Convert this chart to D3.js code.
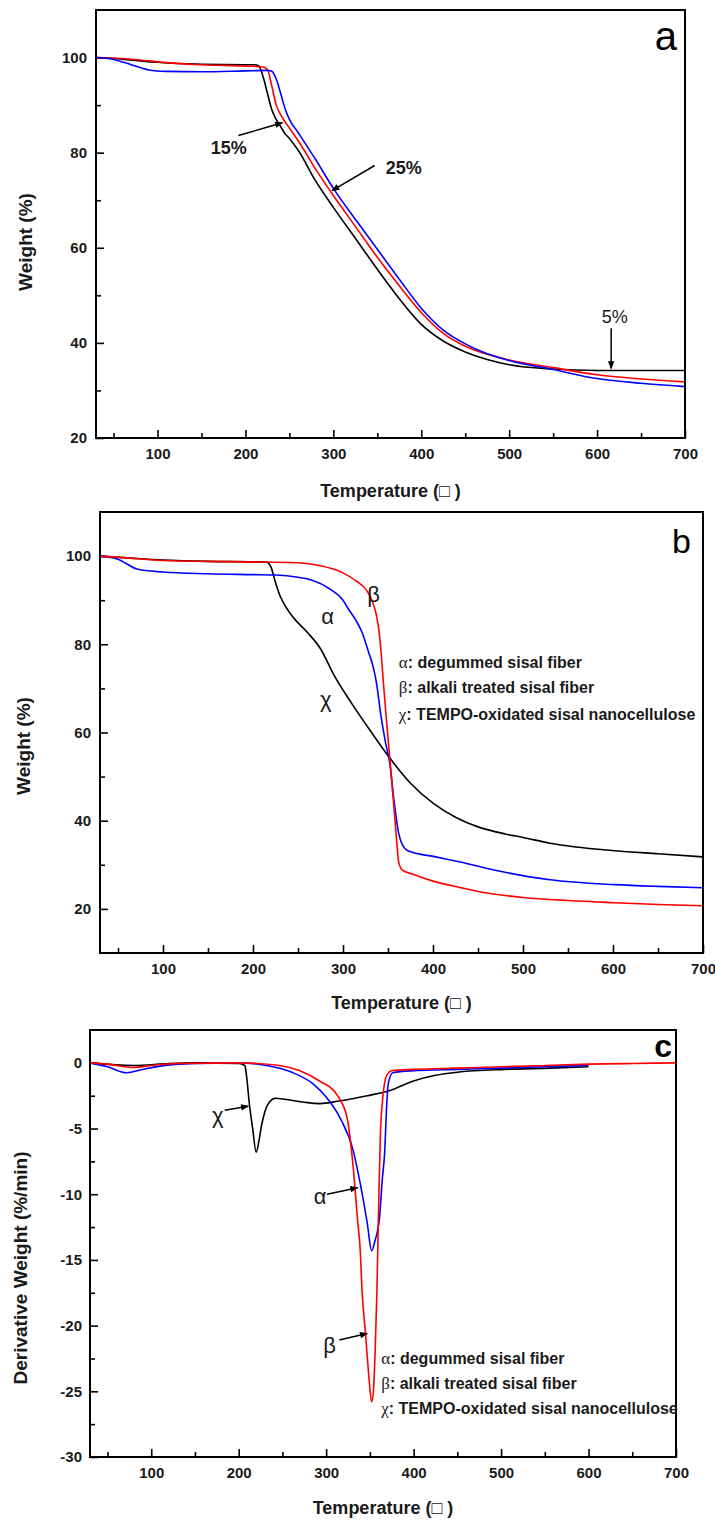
<!DOCTYPE html>
<html>
<head>
<meta charset="utf-8">
<script src="https://cdn.jsdelivr.net/npm/d3@7"></script>
<style>
  body { margin: 0; background: #fff; }
  svg text { font-family: "Liberation Sans", Arial, sans-serif; }
</style>
</head>
<body>
<svg id="chart" width="715" height="1520"></svg>
<script>
// shared temperature ticks
const tempTicks = [100, 200, 300, 400, 500, 600, 700];
const tempMinor = [50, 150, 250, 350, 450, 550, 650];

// panel a - weight loss, three oxidation levels
const aBlackT = [30, 50, 80, 100, 150, 200, 210, 215, 220, 225, 230, 235, 240, 245, 250, 260, 280, 300, 325, 350, 375, 400, 425, 450, 475, 500, 550, 600, 650, 700];
const aBlackW = [100, 99.8, 99.3, 99.0, 98.6, 98.5, 98.5, 98.3, 96, 92.5, 89, 87, 85.5, 84, 83, 80.5, 74, 68.5, 62, 55.5, 49.3, 43.9, 40.4, 38.1, 36.5, 35.4, 34.5, 34.2, 34.2, 34.2];
const aRedT = [30, 50, 80, 100, 150, 200, 220, 225, 230, 235, 240, 245, 250, 260, 280, 300, 325, 350, 375, 400, 425, 450, 475, 500, 550, 600, 650, 700];
const aRedW = [100, 99.9, 99.5, 99.1, 98.5, 98.2, 98.0, 97.5, 94, 90, 88, 86.5, 85.2, 82.5, 76.5, 71, 64.5, 58, 52, 46.4, 42.0, 39.3, 37.6, 36.4, 34.8, 33.3, 32.4, 31.8];
const aBlueT = [30, 50, 70, 90, 110, 150, 200, 225, 230, 235, 240, 245, 250, 260, 280, 300, 325, 350, 375, 400, 425, 450, 475, 500, 550, 600, 650, 700];
const aBlueW = [100, 99.6, 98.5, 97.4, 97.1, 97.0, 97.2, 97.3, 97.1, 95.5, 92.5, 89.3, 87, 84.2, 78.5, 72.5, 66, 59.7, 53.4, 47.3, 42.7, 39.8, 37.7, 36.3, 34.4, 32.5, 31.5, 30.8];

// panel b - alpha / beta / chi samples
const bChiT = [30, 60, 100, 150, 200, 215, 220, 225, 230, 235, 245, 260, 275, 290, 310, 330, 352, 375, 400, 425, 450, 480, 500, 530, 602, 650, 700];
const bChiW = [100, 99.6, 99.1, 98.8, 98.7, 98.6, 97.5, 94, 91, 89, 86, 82.8, 79, 73, 66.5, 60.5, 54.2, 48.5, 44, 40.8, 38.6, 37, 36.2, 34.9, 33.2, 32.5, 31.8];
const bBetaT = [30, 60, 100, 150, 200, 250, 275, 300, 315, 327, 333, 337, 340, 342, 345, 348, 352, 356, 359, 362, 366, 377, 400, 429, 460, 500, 550, 602, 650, 700];
const bBetaW = [100, 99.6, 99.0, 98.8, 98.7, 98.5, 97.8, 96.2, 94.3, 92, 89.5, 86.7, 83, 79, 71, 63.5, 54.2, 44.5, 37, 30.5, 28.8, 27.9, 26.3, 24.9, 23.6, 22.6, 21.9, 21.4, 21.0, 20.7];
const bAlphaT = [30, 50, 72, 100, 150, 200, 225, 250, 265, 285, 300, 306, 315, 321, 328, 334, 337, 342, 347, 352, 357, 362, 366, 372, 403, 429, 480, 530, 602, 650, 700];
const bAlphaW = [100, 99.3, 97, 96.4, 96, 95.8, 95.7, 95.2, 94.6, 92.6, 90, 88, 85.2, 82.8, 78.5, 74.5, 71.5, 64, 58, 53, 44, 37, 34.5, 33.2, 31.8, 30.7, 28.3, 26.6, 25.5, 25.1, 24.8];

// panel c - derivative weight
const cChiT = [30, 80, 120, 150, 200, 207, 209, 212, 216, 220, 223, 226, 230, 235, 242, 250, 260, 275, 293, 315, 347, 373, 399, 425, 452, 504, 557, 600];
const cChiD = [0, -0.2, -0.05, 0, -0.05, -0.2, -1, -3, -5, -6.8, -6.0, -4.8, -3.7, -3.0, -2.7, -2.75, -2.85, -3.0, -3.1, -2.9, -2.5, -2.1, -1.4, -0.95, -0.7, -0.5, -0.4, -0.3];
const cBetaT = [30, 50, 80, 100, 130, 200, 247, 270, 293, 312, 324, 331, 336, 339, 341, 345, 349, 352, 354, 356, 358, 360, 362, 365, 369, 375, 400, 450, 500, 550, 600, 650, 700];
const cBetaD = [0, -0.1, -0.35, -0.2, -0.05, 0, -0.2, -0.6, -1.4, -2.4, -4.2, -8, -12, -14.3, -17.3, -20.6, -24, -25.8, -25, -22, -17.5, -11, -5.5, -2.5, -1.0, -0.6, -0.5, -0.4, -0.3, -0.2, -0.1, -0.05, 0];
const cAlphaT = [30, 50, 72, 90, 110, 150, 200, 232, 260, 285, 300, 316, 331, 339, 347, 352, 356, 361, 364, 367, 369, 371, 376, 400, 450, 500, 550, 600];
const cAlphaD = [0, -0.3, -0.75, -0.5, -0.25, -0.05, 0, -0.2, -0.7, -1.6, -2.6, -4.2, -6.7, -9.2, -12.2, -14.3, -13.5, -11.8, -9, -6.7, -3.5, -1.6, -0.75, -0.6, -0.5, -0.4, -0.3, -0.2];

// labels
const legendLines = [
  ["\u03b1", ": degummed sisal fiber"],
  ["\u03b2", ": alkali treated sisal fiber"],
  ["\u03c7", ": TEMPO-oxidated sisal nanocellulose"]
];
const xTitle = "Temperature (\u25a1 )";

const svg = d3.select("#chart");

svg.append("defs").append("marker")
  .attr("id", "arrow")
  .attr("viewBox", "0 0 10 10")
  .attr("refX", 9).attr("refY", 5)
  .attr("markerUnits", "userSpaceOnUse")
  .attr("markerWidth", 10).attr("markerHeight", 8)
  .attr("orient", "auto")
  .append("path").attr("d", "M0,1L10,5L0,9z").attr("fill", "#000");

function drawPanel(p) {
  const x = d3.scaleLinear().domain([30, 700]).range([p.left, p.right]);
  const y = d3.scaleLinear().domain(p.yDomain).range([p.bottom, p.top]);
  const g = svg.append("g");

  // minor ticks
  g.append("g").attr("transform", `translate(0,${p.bottom})`)
    .call(d3.axisBottom(x).tickValues(tempMinor).tickSize(-5).tickFormat(""))
    .call(s => s.select(".domain").remove());
  g.append("g").attr("transform", `translate(${p.left},0)`)
    .call(d3.axisLeft(y).tickValues(p.yMinor).tickSize(-5).tickFormat(""))
    .call(s => s.select(".domain").remove());

  // major ticks
  const xa = g.append("g").attr("transform", `translate(0,${p.bottom})`)
    .call(d3.axisBottom(x).tickValues(tempTicks).tickSize(-8).tickPadding(10).tickFormat(d => String(d)));
  const ya = g.append("g").attr("transform", `translate(${p.left},0)`)
    .call(d3.axisLeft(y).tickValues(p.yTicks).tickSize(-8).tickPadding(p.yPad).tickFormat(d => String(d)));
  [xa, ya].forEach(a => {
    a.select(".domain").remove();
    a.selectAll("text").attr("font-size", 15).attr("font-weight", "bold")
      .attr("fill", "#1a1a1a").attr("font-family", "Liberation Sans, Arial, sans-serif");
  });
  g.selectAll(".tick line").attr("stroke", "#000").attr("stroke-width", 1.6);

  // curves
  const clipId = "clip" + p.name;
  svg.select("defs").append("clipPath").attr("id", clipId)
    .append("rect").attr("x", p.left).attr("y", p.top)
    .attr("width", p.right - p.left).attr("height", p.bottom - p.top);
  const line = d3.line().x(d => x(d[0])).y(d => y(d[1])).curve(d3.curveMonotoneX);
  p.series.forEach(s => {
    g.append("path")
      .attr("d", line(d3.zip(s.t, s.v)))
      .attr("fill", "none")
      .attr("stroke", s.color)
      .attr("stroke-width", 1.6)
      .attr("clip-path", `url(#${clipId})`);
  });

  // frame
  g.append("rect").attr("x", p.left).attr("y", p.top)
    .attr("width", p.right - p.left).attr("height", p.bottom - p.top)
    .attr("fill", "none").attr("stroke", "#000").attr("stroke-width", 2);

  // titles
  g.append("text").attr("x", (p.left + p.right) / 2).attr("y", p.xTitleY)
    .attr("text-anchor", "middle").attr("font-size", 18).attr("font-weight", "bold")
    .attr("fill", "#1a1a1a").text(xTitle);
  g.append("text")
    .attr("transform", `translate(${p.yTitleX},${p.yTitleY}) rotate(-90)`)
    .attr("text-anchor", "middle").attr("dominant-baseline", "central")
    .attr("font-size", 19).attr("font-weight", "bold").attr("fill", "#1a1a1a")
    .text(p.yTitle);

  // panel letter
  g.append("text").attr("x", p.letter.x).attr("y", p.letter.y)
    .attr("text-anchor", "end").attr("font-size", p.letter.size)
    .attr("font-weight", p.letter.weight).text(p.letter.text);

  // annotation arrows and text
  (p.arrows || []).forEach(a => {
    g.append("line")
      .attr("x1", x(a[0])).attr("y1", y(a[1]))
      .attr("x2", x(a[2])).attr("y2", y(a[3]))
      .attr("stroke", "#000").attr("stroke-width", 1.5)
      .attr("marker-end", "url(#arrow)");
  });
  (p.notes || []).forEach(n => {
    g.append("text").attr("x", x(n.t)).attr("y", y(n.v))
      .attr("text-anchor", "middle").attr("dominant-baseline", "central")
      .attr("font-size", n.greek ? 22 : 18)
      .attr("font-weight", n.greek ? "normal" : n.weight || "bold")
      .attr("font-family", n.greek ? "Liberation Serif, Times New Roman, serif" : null)
      .attr("fill", "#1a1a1a")
      .text(n.text);
  });

  // legend text
  if (p.legend) {
    legendLines.forEach((l, i) => {
      const t = g.append("text").attr("x", x(p.legend.t)).attr("y", y(p.legend.v[i]))
        .attr("dominant-baseline", "central").attr("font-size", 16).attr("fill", "#1a1a1a");
      t.append("tspan").attr("font-family", "Liberation Serif, Times New Roman, serif")
        .attr("font-size", 17).text(l[0]);
      t.append("tspan").attr("font-weight", "bold").text(l[1]);
    });
  }
}

drawPanel({
  name: "a", left: 96, right: 685, top: 10, bottom: 438,
  yDomain: [20, 110], yTicks: [20, 40, 60, 80, 100], yMinor: [30, 50, 70, 90], yPad: 9,
  xTitleY: 497, yTitle: "Weight (%)", yTitleX: 25, yTitleY: 242,
  letter: { text: "a", x: 677, y: 50, size: 40, weight: "normal" },
  series: [
    { t: aBlackT, v: aBlackW, color: "#000" },
    { t: aRedT, v: aRedW, color: "#f00" },
    { t: aBlueT, v: aBlueW, color: "#00f" }
  ],
  notes: [
    { text: "15%", t: 181, v: 80.9 },
    { text: "25%", t: 380, v: 76.7 },
    { text: "5%", t: 620, v: 45.4, weight: "normal" }
  ],
  arrows: [[192, 83.6, 242, 86.3], [347, 77.3, 298.5, 72], [616, 43.1, 616, 34.6]]
});

drawPanel({
  name: "b", left: 100, right: 703, top: 512, bottom: 953,
  yDomain: [10, 110], yTicks: [20, 40, 60, 80, 100], yMinor: [30, 50, 70, 90], yPad: 9,
  xTitleY: 1009, yTitle: "Weight (%)", yTitleX: 23, yTitleY: 746,
  letter: { text: "b", x: 691, y: 553, size: 34, weight: "normal" },
  series: [
    { t: bChiT, v: bChiW, color: "#000" },
    { t: bAlphaT, v: bAlphaW, color: "#00f" },
    { t: bBetaT, v: bBetaW, color: "#f00" }
  ],
  notes: [
    { text: "\u03b2", t: 334, v: 91.4, greek: true },
    { text: "\u03b1", t: 283, v: 86.2, greek: true },
    { text: "\u03c7", t: 281, v: 67.5, greek: true }
  ],
  legend: { t: 362, v: [76, 70.4, 64.3] }
});

drawPanel({
  name: "c", left: 90, right: 676, top: 1030, bottom: 1457,
  yDomain: [-30, 2.5], yTicks: [-30, -25, -20, -15, -10, -5, 0],
  yMinor: [-27.5, -22.5, -17.5, -12.5, -7.5, -2.5], yPad: 8,
  xTitleY: 1514, yTitle: "Derivative Weight (%/min)", yTitleX: 20, yTitleY: 1268,
  letter: { text: "c", x: 672, y: 1057, size: 32, weight: "bold" },
  series: [
    { t: cChiT, v: cChiD, color: "#000" },
    { t: cAlphaT, v: cAlphaD, color: "#00f" },
    { t: cBetaT, v: cBetaD, color: "#f00" }
  ],
  notes: [
    { text: "\u03c7", t: 176, v: -4.0, greek: true },
    { text: "\u03b1", t: 293, v: -10.2, greek: true },
    { text: "\u03b2", t: 304, v: -21.5, greek: true }
  ],
  arrows: [[184, -3.6, 211, -3.3], [301, -10.0, 336, -9.5], [315, -21.1, 347, -20.6]],
  legend: { t: 363, v: [-22.5, -24.4, -26.3] }
});
</script>
</body>
</html>
